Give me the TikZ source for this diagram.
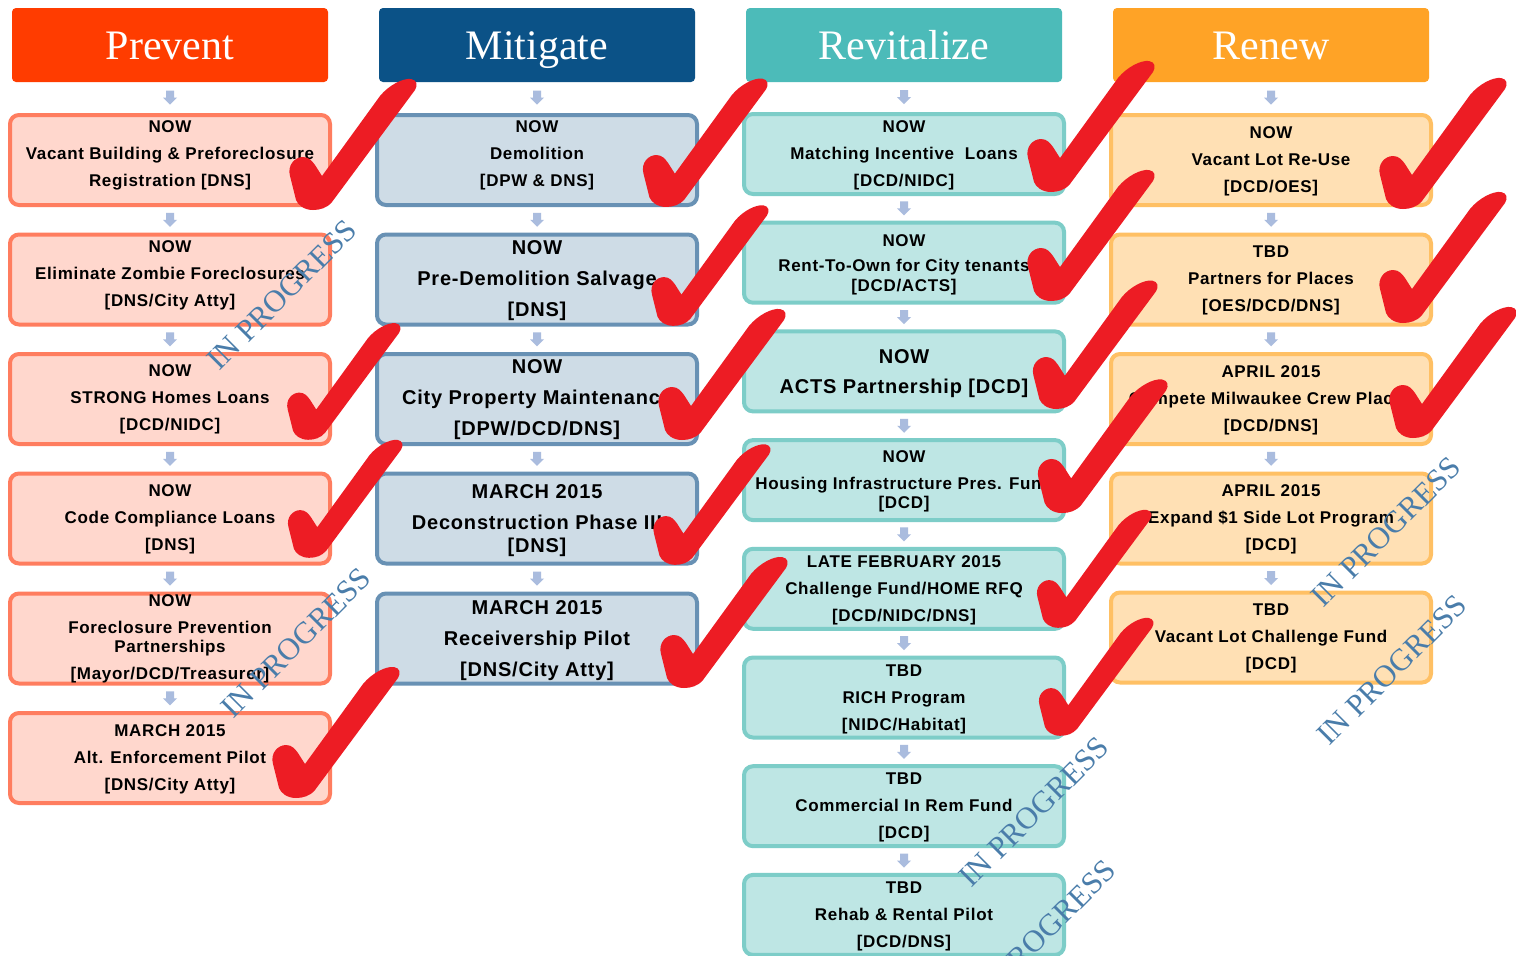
\documentclass[tikz,border=0pt]{standalone}
\usepackage{fontspec}
\setmainfont{Liberation Serif}
\newfontfamily\boxfont{Liberation Sans}[LetterSpace=4.0]
\usetikzlibrary{calc}
\definecolor{hP}{HTML}{FF3C00}
\definecolor{hM}{HTML}{0B5287}
\definecolor{hR}{HTML}{4CBBB9}
\definecolor{hN}{HTML}{FFA326}
\definecolor{pfl}{HTML}{FFD7CD}
\definecolor{pbd}{HTML}{FF7D5F}
\definecolor{mfl}{HTML}{CEDCE6}
\definecolor{mbd}{HTML}{6891B4}
\definecolor{rfl}{HTML}{BEE6E4}
\definecolor{rbd}{HTML}{7DCDC8}
\definecolor{nfl}{HTML}{FFE0B4}
\definecolor{nbd}{HTML}{FFC064}
\definecolor{arrc}{HTML}{AABCDE}
\definecolor{chkred}{HTML}{ED1C24}
\definecolor{wmblue}{HTML}{4A7DAA}
\tikzset{
  hdr/.style={rounded corners=4pt, minimum width=316pt, minimum height=74pt, inner sep=0pt,
    text=white, font=\fontsize{42}{42}\selectfont, text height=28pt, text depth=0pt},
  boxbase/.style={line width=4pt, rounded corners=9pt, minimum width=320pt, minimum height=90pt, inner sep=0pt},
  pbox/.style={boxbase, draw=pbd, fill=pfl},
  mbox/.style={boxbase, draw=mbd, fill=mfl},
  rbox/.style={boxbase, draw=rbd, fill=rfl, minimum height=80pt},
  nbox/.style={boxbase, draw=nbd, fill=nfl},
  txt/.style={align=center, inner sep=0pt, font=\boxfont\bfseries\fontsize{17}{27}\selectfont},
  bigtxt/.style={align=center, inner sep=0pt, font=\boxfont\bfseries\fontsize{20}{31}\selectfont},
  wm/.style={rotate=45, text=wmblue, inner sep=0pt, font=\fontsize{31}{31}\selectfont},
  chk/.pic={
    \fill[chkred] (-2,2) .. controls (-11,2) and (-17,-3) .. (-19,-8)
      -- (-25,-32)
      .. controls (-28,-43) and (-20,-51) .. (-12,-51)
      .. controls (-6,-51) and (-3,-47) .. (0,-43)
      -- (7,-32)
      -- (65,-112)
      .. controls (74,-123) and (88,-130) .. (96,-129)
      .. controls (102,-128) and (103,-123) .. (100,-118)
      -- (17,-6)
      .. controls (12,0) and (5,2) .. (-2,2) -- cycle;
  },
  darr/.pic={
    \fill[arrc] (-4,-7) -- (4,-7) -- (4,0) -- (7,0) -- (0,7) -- (-7,0) -- (-4,0) -- cycle;
  }
}
\begin{document}
\begin{tikzpicture}[x=1pt,y=-1pt]
\useasboundingbox (0,0) rectangle (1516,956);
\fill[white] (0,0) rectangle (1516,956);
% headers
\node[hdr, fill=hP] (h1) at (170,45) {Prevent};
\node[hdr, fill=hM] (h2) at (537,45) {Mitigate};
\node[hdr, fill=hR] (h3) at (904,45) {Revitalize};
\node[hdr, fill=hN] (h4) at (1271,45) {Renew};
% Prevent boxes
\node[pbox] (p1) at (170,160) {};
\node[pbox] (p2) at (170,279.5) {};
\node[pbox] (p3) at (170,399) {};
\node[pbox] (p4) at (170,518.5) {};
\node[pbox] (p5) at (170,638.5) {};
\node[pbox] (p6) at (170,758) {};
% Mitigate boxes
\node[mbox] (m1) at (537,160) {};
\node[mbox] (m2) at (537,279.5) {};
\node[mbox] (m3) at (537,399) {};
\node[mbox] (m4) at (537,518.5) {};
\node[mbox] (m5) at (537,638.5) {};
% Revitalize boxes
\node[rbox] (r1) at (904,154) {};
\node[rbox] (r2) at (904,262.7) {};
\node[rbox] (r3) at (904,371.4) {};
\node[rbox] (r4) at (904,480.1) {};
\node[rbox] (r5) at (904,588.8) {};
\node[rbox] (r6) at (904,697.5) {};
\node[rbox] (r7) at (904,806.2) {};
\node[rbox] (r8) at (904,914.9) {};
% Renew boxes
\node[nbox] (n1) at (1271,160) {};
\node[nbox] (n2) at (1271,279.5) {};
\node[nbox] (n3) at (1271,399) {};
\node[nbox] (n4) at (1271,518.5) {};
\node[nbox] (n5) at (1271,637.5) {};
% Prevent texts
\node[txt] (tp1) at (170,155.5) {NOW\\Vacant Building \& Preforeclosure\\Registration [DNS]};
\node[txt] (tp2) at (170,275) {NOW\\Eliminate Zombie Foreclosures\\{[DNS/City Atty]}};
\node[txt] (tp3) at (170,399.5) {NOW\\STRONG Homes Loans\\{[DCD/NIDC]}};
\node[txt] (tp4) at (170,519.5) {NOW\\Code Compliance Loans\\{[DNS]}};
\node[txt] (tp5) at (170,639) {NOW\\Foreclosure Prevention\\[-8pt]Partnerships\\{[Mayor/DCD/Treasurer]}};
\node[txt] (tp6) at (170,759) {MARCH 2015\\Alt. Enforcement Pilot\\{[DNS/City Atty]}};
% Mitigate texts
\node[txt] (tm1) at (537,155.5) {NOW\\Demolition\\{[DPW \& DNS]}};
\node[bigtxt] (tm2) at (537,280.5) {NOW\\Pre-Demolition Salvage\\{[DNS]}};
\node[bigtxt] (tm3) at (537,400) {NOW\\City Property Maintenance\\{[DPW/DCD/DNS]}};
\node[bigtxt] (tm4) at (537,520.5) {MARCH 2015\\Deconstruction Phase III\\[-8pt]{[DNS]}};
\node[bigtxt] (tm5) at (537,640.5) {MARCH 2015\\Receivership Pilot\\{[DNS/City Atty]}};
% Revitalize texts
\node[txt] (tr1) at (904,155) {NOW\\Matching Incentive~~Loans\\{[DCD/NIDC]}};
\node[txt] (tr2) at (904,264.5) {NOW\\[-2pt]Rent-To-Own for City tenants\\[-7pt]{[DCD/ACTS]}};
\node[bigtxt] (tr3) at (904,373.5) {NOW\\[-1pt]ACTS Partnership [DCD]};
\node[txt] (tr4) at (904,481) {NOW\\Housing Infrastructure Pres. Fund\\[-8pt]{[DCD]}};
\node[txt] (tr5) at (904,590) {LATE FEBRUARY 2015\\Challenge Fund/HOME RFQ\\{[DCD/NIDC/DNS]}};
\node[txt] (tr6) at (904,699) {TBD\\RICH Program\\{[NIDC/Habitat]}};
\node[txt] (tr7) at (904,807) {TBD\\Commercial In Rem Fund\\{[DCD]}};
\node[txt] (tr8) at (904,916) {TBD\\Rehab \& Rental Pilot\\{[DCD/DNS]}};
% Renew texts
\node[txt] (tn1) at (1271,161.5) {NOW\\Vacant Lot Re-Use\\{[DCD/OES]}};
\node[txt] (tn2) at (1271,280) {TBD\\Partners for Places\\{[OES/DCD/DNS]}};
\node[txt] (tn3) at (1271,400) {APRIL 2015\\Compete Milwaukee Crew Places\\{[DCD/DNS]}};
\node[txt] (tn4) at (1271,519) {APRIL 2015\\Expand \$1 Side Lot Program\\{[DCD]}};
\node[txt] (tn5) at (1271,638) {TBD\\Vacant Lot Challenge Fund\\{[DCD]}};
% connectors (block arrows)
\pic at ($(h1.south)!0.5!(p1.north)$) {darr};
\pic at ($(p1.south)!0.5!(p2.north)$) {darr};
\pic at ($(p2.south)!0.5!(p3.north)$) {darr};
\pic at ($(p3.south)!0.5!(p4.north)$) {darr};
\pic at ($(p4.south)!0.5!(p5.north)$) {darr};
\pic at ($(p5.south)!0.5!(p6.north)$) {darr};
\pic at ($(h2.south)!0.5!(m1.north)$) {darr};
\pic at ($(m1.south)!0.5!(m2.north)$) {darr};
\pic at ($(m2.south)!0.5!(m3.north)$) {darr};
\pic at ($(m3.south)!0.5!(m4.north)$) {darr};
\pic at ($(m4.south)!0.5!(m5.north)$) {darr};
\pic at ($(h3.south)!0.5!(r1.north)$) {darr};
\pic at ($(r1.south)!0.5!(r2.north)$) {darr};
\pic at ($(r2.south)!0.5!(r3.north)$) {darr};
\pic at ($(r3.south)!0.5!(r4.north)$) {darr};
\pic at ($(r4.south)!0.5!(r5.north)$) {darr};
\pic at ($(r5.south)!0.5!(r6.north)$) {darr};
\pic at ($(r6.south)!0.5!(r7.north)$) {darr};
\pic at ($(r7.south)!0.5!(r8.north)$) {darr};
\pic at ($(h4.south)!0.5!(n1.north)$) {darr};
\pic at ($(n1.south)!0.5!(n2.north)$) {darr};
\pic at ($(n2.south)!0.5!(n3.north)$) {darr};
\pic at ($(n3.south)!0.5!(n4.north)$) {darr};
\pic at ($(n4.south)!0.5!(n5.north)$) {darr};
% check marks
\pic[scale=1.0] at (315,208) {chk};
\pic[scale=0.89] at (310,438) {chk};
\pic[scale=0.9] at (311,556) {chk};
\pic[scale=1.0] at (298,796) {chk};
\pic[scale=0.98] at (668,205) {chk};
\pic[scale=0.92] at (675,324) {chk};
\pic[scale=1.0] at (684,438) {chk};
\pic[scale=0.92] at (677,563) {chk};
\pic[scale=1.0] at (686,686) {chk};
\pic[scale=1.0] at (1053,190) {chk};
\pic[scale=1.0] at (1053,299) {chk};
\pic[scale=0.98] at (1058,407) {chk};
\pic[scale=1.02] at (1064,511) {chk};
\pic[scale=0.9] at (1060,626) {chk};
\pic[scale=0.9] at (1062,734) {chk};
\pic[scale=1.0] at (1405,207) {chk};
\pic[scale=1.0] at (1405,321) {chk};
\pic[scale=1.0] at (1415,436) {chk};
% watermarks
\node[wm] (w1) at (282,295) {IN PROGRESS};
\node[wm] (w2) at (296,643) {IN PROGRESS};
\node[wm] (w3) at (1034,812) {IN PROGRESS};
\node[wm] (w4) at (1041,935) {IN PROGRESS};
\node[wm] (w5) at (1386,532) {IN PROGRESS};
\node[wm] (w6) at (1392,670) {IN PROGRESS};
\end{tikzpicture}
\end{document}
